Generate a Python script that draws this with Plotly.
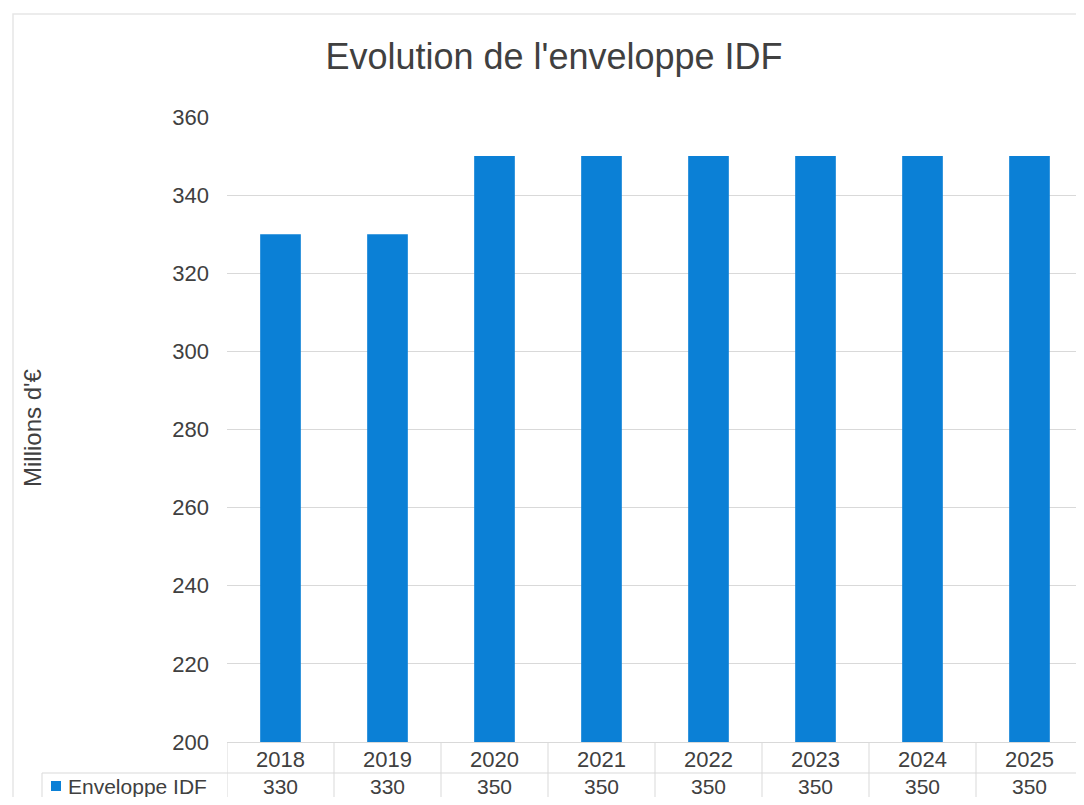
import plotly.graph_objects as go

## data
years = ["2018", "2019", "2020", "2021", "2022", "2023", "2024", "2025"]
enveloppe = [330, 330, 350, 350, 350, 350, 350, 350]
series_name = "Enveloppe IDF"

## the page body keeps its default 8px margin, so the figure is a bit smaller
OFF = 8
W, H = 1084 - 2 * OFF, 805 - 2 * OFF
BLUE = "#0B80D6"
TXT = "#404040"
GRID = "#D9D9D9"
FONT = "Liberation Sans, Arial, sans-serif"
BAND = 107  # px per category in the reference


## screen pixel -> paper helpers
def px(x):
    return min(max((x - OFF) / W, 0), 1)


def py(y):
    return min(max(1 - (y - OFF) / H, 0), 1)


x_left = 227
x_right = OFF + W
n = len(years)

fig = go.Figure()
fig.add_trace(go.Bar(x=years, y=enveloppe, name=series_name, marker_color=BLUE,
                     marker_line_width=0))

## data table under the plot: value row (x given as category index)
ROW = 786
annotations = []
for i, v in enumerate(enveloppe):
    annotations.append(dict(x=i, xref="x", y=py(ROW), yref="paper", text=str(v),
                            xanchor="center", yanchor="middle", showarrow=False,
                            font=dict(size=21, color=TXT, family=FONT)))
annotations.append(dict(x=px(66), xref="paper", y=py(ROW), yref="paper", text=series_name,
                        xanchor="left", yanchor="middle", showarrow=False,
                        font=dict(size=21, color=TXT, family=FONT)))
## y axis title
annotations.append(dict(x=px(32), xref="paper", y=py(428), yref="paper", text="Millions d'€",
                        textangle=-90, xanchor="center", yanchor="middle", showarrow=False,
                        font=dict(size=24, color=TXT, family=FONT)))

shapes = []
## faint chart border
shapes.append(dict(type="rect", xref="paper", yref="paper", x0=px(13), x1=1.01, y0=py(14), y1=-0.01,
                   line=dict(color="#E6E6E6", width=1.5)))
## table grid lines
shapes.append(dict(type="line", xref="paper", yref="paper", x0=px(42), x1=1, y0=py(773), y1=py(773),
                   line=dict(color=GRID, width=1)))
shapes.append(dict(type="line", xref="paper", yref="paper", x0=px(42), x1=px(42), y0=py(773), y1=0,
                   line=dict(color=GRID, width=1)))
for i in range(n):
    shapes.append(dict(type="line", xref="x", yref="paper", x0=i - 0.5, x1=i - 0.5, y0=py(742), y1=0,
                       line=dict(color=GRID, width=1)))
## legend key
shapes.append(dict(type="rect", xref="paper", yref="paper", x0=px(51), x1=px(61), y0=py(ROW - 5),
                   y1=py(ROW + 5), fillcolor=BLUE, line=dict(width=0)))

fig.update_layout(
    width=W, height=H,
    margin=dict(l=0, r=0, t=0, b=0, autoexpand=False),
    paper_bgcolor="white", plot_bgcolor="white",
    showlegend=False,
    bargap=0.62,
    title=dict(text="Evolution de l'enveloppe IDF", x=px(554), xanchor="center", y=py(56), yanchor="middle",
               font=dict(size=36, color=TXT, family=FONT)),
    font=dict(family=FONT, color=TXT),
    xaxis=dict(domain=[px(x_left), 1], range=[-0.5, -0.5 + (x_right - x_left) / BAND], type="category",
               showgrid=False, showline=True, linecolor=GRID, linewidth=1, automargin=False,
               tickfont=dict(size=22, color=TXT), ticks="", ticklabelstandoff=-2),
    yaxis=dict(domain=[py(742), py(117)], range=[200, 360], dtick=20, showgrid=True, gridcolor=GRID,
               gridwidth=1, zeroline=False, showline=False, ticks="", automargin=False,
               tickfont=dict(size=22, color=TXT), ticklabelstandoff=17),
    annotations=annotations,
    shapes=shapes,
)

fig.write_html("out.html")
